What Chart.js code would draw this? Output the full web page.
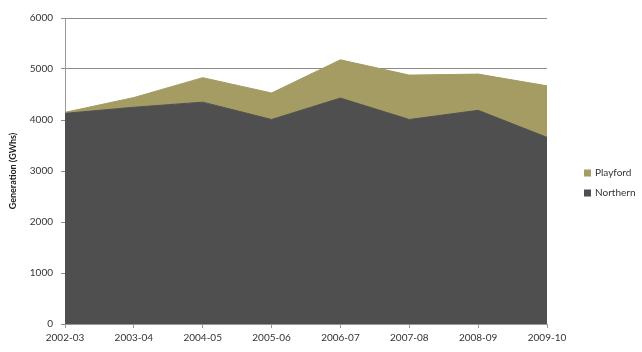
<!DOCTYPE html>
<html>
<head>
<meta charset="utf-8">
<script src="https://cdn.jsdelivr.net/npm/chart.js"></script>
<style>
  html, body { margin: 0; padding: 0; background: #fff; }
  #wrap { width: 642px; height: 352px; }
</style>
</head>
<body>
<div id="wrap"><canvas id="gen"></canvas></div>
<script>
// generation by financial year (GWh)
const years = ["2002-03", "2003-04", "2004-05", "2005-06", "2006-07", "2007-08", "2008-09", "2009-10"];
const northern = [4130, 4250, 4350, 4010, 4430, 4010, 4190, 3660];
const playford = [20, 190, 480, 520, 750, 870, 710, 1010];
const yTicks = [0, 1000, 2000, 3000, 4000, 5000, 6000];

const textFont = { family: "Lato, 'Liberation Sans', sans-serif", size: 10 };

// legend drawn by hand in the right margin, top series first
const sideLegend = {
    id: "sideLegend",
    afterDraw(chart) {
        const c = chart.ctx;
        const sets = chart.data.datasets.slice().reverse();
        c.save();
        c.font = textFont.size + "px " + textFont.family;
        c.textBaseline = "middle";
        sets.forEach((ds, i) => {
            const y = 173 + i * 20;
            const x = chart.chartArea.right + 37;
            c.fillStyle = ds.backgroundColor;
            c.fillRect(x, y - 3.5, 7, 7);
            c.fillStyle = "#333";
            c.fillText(ds.label, x + 11, y);
        });
        c.restore();
    },
};

const ctx = document.getElementById("gen").getContext("2d");

new Chart(ctx, {
    type: "line",
    data: {
        labels: years,
        datasets: [
            {
                label: "Northern",
                data: northern,
                backgroundColor: "#4f4f4f",
                borderColor: "#4f4f4f",
                borderWidth: 1,
                fill: "origin",
                pointRadius: 0,
                tension: 0,
            },
            {
                label: "Playford",
                data: playford,
                backgroundColor: "#a49c63",
                borderColor: "#a49c63",
                borderWidth: 1,
                fill: "-1",
                pointRadius: 0,
                tension: 0,
            },
        ],
    },
    options: {
        responsive: true,
        maintainAspectRatio: false,
        animation: false,
        layout: {
            padding: { top: 18, right: 95, bottom: 4, left: 8 },
        },
        scales: {
            x: {
                offset: false,
                grid: {
                    drawOnChartArea: false,
                    tickLength: 4,
                    color: "#999",
                },
                border: { color: "#999" },
                ticks: {
                    color: "#333",
                    font: textFont,
                    maxRotation: 0,
                    autoSkip: false,
                    padding: 4,
                },
            },
            y: {
                stacked: true,
                min: 0,
                max: 6000,
                afterBuildTicks: (axis) => {
                    axis.ticks = yTicks.map((v) => ({ value: v }));
                },
                afterFit: (axis) => {
                    axis.width = 57;
                },
                grid: {
                    color: "#8c8c8c",
                    tickLength: 4,
                },
                border: { color: "#999" },
                ticks: {
                    color: "#333",
                    font: textFont,
                    padding: 8,
                    callback: (v) => String(v),
                },
                title: {
                    display: true,
                    text: "Generation (GWhs)",
                    color: "#222",
                    font: { family: textFont.family, size: 9, weight: "bold" },
                    padding: { top: 0, bottom: 4 },
                },
            },
        },
        plugins: {
            legend: { display: false },
            tooltip: { enabled: false },
        },
    },
    plugins: [sideLegend],
});
</script>
</body>
</html>
